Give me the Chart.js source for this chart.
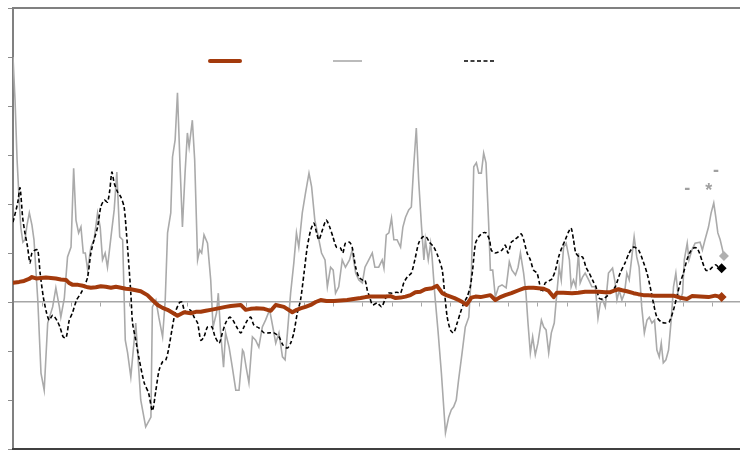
<!DOCTYPE html>
<html>
<head>
<meta charset="utf-8">
<script src="https://cdn.jsdelivr.net/npm/chart.js@4.4.0/dist/chart.umd.min.js"></script>
<style>
html, body { margin: 0; padding: 0; background: #fff; }
</style>
</head>
<body>
<canvas id="chart" width="740" height="451"></canvas>
<script>
// x in tick periods (one tick mark = 1), y in axis units (one tick = 1)

// thick brown series
var brownX = [
  0.00, 0.21, 0.38, 0.55, 0.65, 0.79, 0.96, 1.13, 1.30, 1.47,
  1.64, 1.82, 1.92, 2.05, 2.23, 2.40, 2.57, 2.67, 2.84, 3.01,
  3.18, 3.36, 3.53, 3.70, 3.87, 4.04, 4.21, 4.38, 4.61, 4.78,
  4.96, 5.13, 5.30, 5.47, 5.64, 5.87, 6.10, 6.27, 6.44, 6.61,
  6.78, 6.95, 7.12, 7.29, 7.47, 7.64, 7.81, 7.98, 8.15, 8.32,
  8.61, 8.84, 9.01, 9.29, 9.58, 9.73, 9.86, 10.03, 10.21, 10.38,
  10.55, 10.75, 11.00, 11.23, 11.46, 11.68, 11.92, 12.09, 12.26, 12.43,
  12.60, 12.77, 12.95, 13.12, 13.29, 13.46, 13.63, 13.80, 13.97, 14.14,
  14.37, 14.54, 14.72, 14.86, 15.00, 15.14, 15.28, 15.41, 15.55, 15.72,
  15.86, 16.03, 16.20, 16.37, 16.54, 16.71, 16.88, 17.09, 17.34, 17.51,
  17.68, 17.85, 18.02, 18.20, 18.36, 18.54, 18.65, 18.87, 19.17, 19.38,
  19.62, 19.83, 20.08, 20.31, 20.48, 20.65, 20.76, 20.89, 21.05, 21.28,
  21.44, 21.62, 21.78, 21.96, 22.30, 22.65, 22.93, 23.11, 23.28, 23.56,
  23.85, 24.08, 24.30
];
var brownY = [
  0.39, 0.41, 0.43, 0.47, 0.51, 0.48, 0.49, 0.50, 0.49, 0.48,
  0.46, 0.45, 0.39, 0.35, 0.35, 0.33, 0.30, 0.29, 0.30, 0.32,
  0.31, 0.29, 0.31, 0.29, 0.27, 0.26, 0.24, 0.22, 0.14, 0.04,
  -0.06, -0.12, -0.16, -0.22, -0.28, -0.21, -0.23, -0.20, -0.20, -0.18,
  -0.16, -0.14, -0.12, -0.10, -0.08, -0.07, -0.06, -0.16, -0.14, -0.13,
  -0.14, -0.18, -0.06, -0.10, -0.21, -0.16, -0.13, -0.10, -0.06, 0.00,
  0.04, 0.02, 0.02, 0.03, 0.04, 0.06, 0.08, 0.10, 0.11, 0.11,
  0.11, 0.11, 0.12, 0.08, 0.09, 0.11, 0.14, 0.20, 0.21, 0.26,
  0.28, 0.33, 0.18, 0.14, 0.11, 0.08, 0.04, 0.00, -0.06, 0.09,
  0.11, 0.10, 0.12, 0.14, 0.04, 0.10, 0.14, 0.18, 0.24, 0.28,
  0.29, 0.29, 0.28, 0.27, 0.23, 0.10, 0.19, 0.19, 0.18, 0.19,
  0.21, 0.21, 0.21, 0.20, 0.20, 0.24, 0.26, 0.24, 0.22, 0.18,
  0.16, 0.14, 0.14, 0.13, 0.13, 0.13, 0.08, 0.06, 0.12, 0.11,
  0.10, 0.13, 0.10
];

// thin grey series
var greyX = [
  0.00, 0.07, 0.14, 0.21, 0.27, 0.34, 0.41, 0.48, 0.56, 0.65,
  0.72, 0.85, 0.96, 1.07, 1.19, 1.36, 1.47, 1.59, 1.64, 1.76,
  1.87, 1.99, 2.08, 2.16, 2.25, 2.33, 2.41, 2.48, 2.56, 2.67,
  2.78, 2.90, 2.99, 3.07, 3.16, 3.24, 3.36, 3.47, 3.56, 3.66,
  3.76, 3.85, 3.93, 4.04, 4.14, 4.21, 4.38, 4.55, 4.73, 4.78,
  4.90, 5.00, 5.13, 5.22, 5.30, 5.41, 5.47, 5.56, 5.64, 5.73,
  5.81, 5.90, 5.98, 6.04, 6.15, 6.23, 6.33, 6.40, 6.47, 6.55,
  6.67, 6.78, 6.86, 6.98, 7.04, 7.12, 7.22, 7.29, 7.41, 7.52,
  7.64, 7.75, 7.87, 7.91, 8.00, 8.09, 8.21, 8.32, 8.43, 8.55,
  8.66, 8.80, 8.91, 9.01, 9.12, 9.24, 9.33, 9.41, 9.52, 9.63,
  9.72, 9.80, 9.92, 10.03, 10.15, 10.24, 10.35, 10.47, 10.58, 10.70,
  10.78, 10.89, 10.98, 11.06, 11.17, 11.29, 11.40, 11.54, 11.63, 11.75,
  11.86, 11.98, 12.07, 12.20, 12.32, 12.41, 12.54, 12.66, 12.72, 12.80,
  12.89, 12.98, 13.06, 13.17, 13.29, 13.37, 13.46, 13.57, 13.66, 13.74,
  13.83, 13.91, 14.01, 14.09, 14.14, 14.24, 14.32, 14.37, 14.46, 14.58,
  14.69, 14.83, 14.94, 15.03, 15.11, 15.20, 15.28, 15.40, 15.51, 15.63,
  15.72, 15.80, 15.89, 15.97, 16.06, 16.14, 16.22, 16.31, 16.37, 16.45,
  16.54, 16.65, 16.77, 16.91, 17.02, 17.11, 17.23, 17.32, 17.40, 17.51,
  17.59, 17.66, 17.74, 17.82, 17.91, 18.00, 18.12, 18.20, 18.28, 18.37,
  18.46, 18.56, 18.65, 18.73, 18.80, 18.88, 18.97, 19.08, 19.14, 19.22,
  19.30, 19.39, 19.45, 19.53, 19.62, 19.74, 19.85, 19.97, 20.06, 20.14,
  20.22, 20.31, 20.42, 20.56, 20.65, 20.71, 20.79, 20.88, 20.97, 21.05,
  21.13, 21.22, 21.30, 21.39, 21.47, 21.56, 21.65, 21.74, 21.82, 21.91,
  22.00, 22.08, 22.16, 22.23, 22.30, 22.39, 22.48, 22.57, 22.65, 22.73,
  22.80, 22.88, 22.96, 23.02, 23.12, 23.18, 23.28, 23.39, 23.56, 23.64,
  23.73, 23.85, 23.94, 24.03, 24.10, 24.17, 24.25, 24.38
];
var greyY = [
  5.00, 4.12, 2.90, 2.08, 1.51, 1.22, 1.27, 1.57, 1.82, 1.57,
  1.27, 0.04, -1.45, -1.80, -0.43, -0.10, 0.29, -0.10, -0.31, 0.08,
  0.92, 1.12, 2.73, 1.67, 1.41, 1.53, 1.00, 1.00, 0.65, 1.12,
  1.27, 1.82, 1.53, 0.86, 1.00, 0.71, 1.33, 1.88, 2.65, 1.33,
  1.27, -0.78, -1.04, -1.53, -0.88, -0.43, -2.00, -2.55, -2.35, -0.10,
  0.04, -0.31, -0.71, 0.04, 1.41, 1.82, 2.96, 3.31, 4.27, 2.76,
  1.53, 2.63, 3.45, 3.16, 3.71, 2.90, 0.86, 1.06, 1.00, 1.37,
  1.20, 0.45, -0.51, -0.22, 0.18, -0.63, -1.33, -0.63, -0.92, -1.33,
  -1.80, -1.80, -0.98, -1.02, -1.35, -1.65, -0.71, -0.78, -0.92, -0.51,
  -0.37, -0.16, -0.51, -0.84, -0.63, -1.12, -1.18, -0.63, 0.18, 0.80,
  1.41, 1.12, 1.82, 2.22, 2.63, 2.35, 1.67, 1.33, 1.00, 0.86,
  0.31, 0.71, 0.65, 0.18, 0.31, 0.86, 0.71, 0.86, 1.06, 0.59,
  0.45, 0.39, 0.71, 0.86, 1.00, 0.71, 0.71, 0.86, 0.69, 1.37,
  1.41, 1.71, 1.27, 1.27, 1.12, 1.53, 1.73, 1.88, 1.94, 2.76,
  3.55, 2.49, 1.53, 0.86, 1.27, 0.86, 1.20, 0.92, 0.18, -0.63,
  -1.45, -2.67, -2.35, -2.20, -2.14, -2.00, -1.59, -1.04, -0.51, -0.31,
  0.59, 2.76, 2.84, 2.63, 2.63, 3.04, 2.84, 1.61, 0.65, 0.65,
  0.10, 0.31, 0.35, 0.29, 0.82, 0.65, 0.55, 0.71, 1.00, 0.59,
  0.18, -0.43, -1.04, -0.71, -1.08, -0.84, -0.37, -0.51, -0.57, -1.04,
  -0.63, -0.43, 0.18, 0.71, 0.45, 1.12, 1.20, 0.86, 0.31, 0.45,
  0.31, 1.00, 0.39, 0.51, 0.59, 0.45, 0.31, 0.31, -0.33, -0.02,
  0.04, -0.10, 0.59, 0.69, 0.39, 0.04, 0.24, 0.04, 0.18, 0.59,
  0.45, 0.92, 1.33, 0.92, 0.71, -0.10, -0.63, -0.37, -0.31, -0.43,
  -0.37, -0.98, -1.12, -0.84, -1.24, -1.18, -0.98, -0.37, 0.31, 0.59,
  0.18, 0.04, 0.18, 0.86, 1.20, 0.86, 1.06, 1.20, 1.22, 1.06,
  1.27, 1.53, 1.82, 2.02, 1.73, 1.41, 1.27, 0.94
];

// dashed black series
var blackX = [
  0.00, 0.16, 0.24, 0.33, 0.41, 0.50, 0.58, 0.65, 0.76, 0.85,
  0.93, 1.04, 1.15, 1.24, 1.36, 1.50, 1.61, 1.72, 1.82, 1.93,
  2.04, 2.18, 2.33, 2.44, 2.56, 2.67, 2.78, 2.90, 3.01, 3.13,
  3.24, 3.32, 3.39, 3.47, 3.59, 3.70, 3.81, 3.89, 3.96, 4.04,
  4.10, 4.21, 4.33, 4.50, 4.65, 4.78, 4.90, 5.01, 5.13, 5.24,
  5.33, 5.45, 5.56, 5.70, 5.79, 5.87, 5.96, 6.04, 6.13, 6.21,
  6.33, 6.44, 6.55, 6.67, 6.82, 6.93, 7.07, 7.18, 7.29, 7.43,
  7.54, 7.67, 7.81, 7.92, 8.04, 8.15, 8.26, 8.43, 8.61, 8.78,
  8.95, 9.12, 9.26, 9.41, 9.52, 9.63, 9.75, 9.86, 9.98, 10.09,
  10.21, 10.32, 10.41, 10.49, 10.61, 10.74, 10.86, 10.97, 11.09, 11.23,
  11.31, 11.40, 11.54, 11.63, 11.75, 11.86, 11.98, 12.07, 12.15, 12.23,
  12.33, 12.49, 12.64, 12.75, 12.87, 13.00, 13.17, 13.29, 13.40, 13.52,
  13.66, 13.78, 13.91, 14.05, 14.17, 14.28, 14.43, 14.58, 14.72, 14.80,
  14.89, 15.00, 15.11, 15.23, 15.34, 15.46, 15.57, 15.68, 15.76, 15.86,
  15.97, 16.11, 16.22, 16.34, 16.40, 16.52, 16.65, 16.77, 16.88, 16.98,
  17.09, 17.20, 17.32, 17.43, 17.51, 17.63, 17.74, 17.85, 17.97, 18.05,
  18.14, 18.25, 18.37, 18.48, 18.60, 18.71, 18.83, 18.94, 19.05, 19.14,
  19.22, 19.30, 19.42, 19.53, 19.65, 19.76, 19.87, 19.99, 20.10, 20.22,
  20.33, 20.48, 20.65, 20.82, 20.99, 21.13, 21.28, 21.45, 21.59, 21.74,
  21.85, 21.96, 22.08, 22.23, 22.36, 22.50, 22.65, 22.76, 22.88, 22.99,
  23.11, 23.22, 23.33, 23.45, 23.54, 23.64, 23.76, 23.87, 23.98, 24.10,
  24.19, 24.30
];
var blackY = [
  1.63, 2.02, 2.33, 1.73, 1.41, 1.12, 0.80, 1.00, 1.06, 1.06,
  0.59, 0.10, -0.22, -0.37, -0.27, -0.37, -0.51, -0.71, -0.73, -0.37,
  -0.22, 0.04, 0.18, 0.31, 0.51, 1.00, 1.27, 1.53, 1.94, 2.08,
  2.04, 2.29, 2.65, 2.43, 2.24, 2.14, 1.94, 1.41, 0.86, 0.18,
  -0.43, -0.78, -1.18, -1.65, -1.86, -2.22, -1.80, -1.39, -1.22, -1.18,
  -0.98, -0.57, -0.22, -0.02, 0.00, -0.16, -0.22, -0.16, -0.20, -0.31,
  -0.43, -0.78, -0.71, -0.51, -0.51, -0.71, -0.84, -0.63, -0.43, -0.31,
  -0.37, -0.51, -0.63, -0.51, -0.37, -0.31, -0.47, -0.53, -0.63, -0.63,
  -0.63, -0.71, -0.88, -0.94, -0.84, -0.63, -0.22, 0.04, 0.59, 1.12,
  1.47, 1.61, 1.41, 1.27, 1.47, 1.67, 1.53, 1.33, 1.12, 1.10,
  1.00, 1.20, 1.22, 1.12, 0.71, 0.51, 0.45, 0.45, 0.24, 0.10,
  -0.06, -0.02, -0.10, 0.04, 0.18, 0.18, 0.20, 0.18, 0.39, 0.51,
  0.59, 0.86, 1.20, 1.33, 1.33, 1.22, 1.12, 0.92, 0.65, 0.18,
  -0.31, -0.57, -0.63, -0.43, -0.22, -0.02, 0.10, 0.31, 0.65, 1.20,
  1.33, 1.41, 1.41, 1.27, 1.06, 1.00, 1.02, 1.06, 1.16, 1.00,
  1.22, 1.27, 1.33, 1.39, 1.27, 1.00, 0.86, 0.65, 0.59, 0.39,
  0.20, 0.39, 0.43, 0.47, 0.65, 0.92, 1.12, 1.27, 1.43, 1.51,
  1.27, 1.00, 0.92, 0.92, 0.71, 0.59, 0.45, 0.31, 0.08, 0.06,
  0.10, 0.18, 0.31, 0.59, 0.80, 1.00, 1.12, 1.06, 0.86, 0.59,
  0.31, -0.02, -0.31, -0.41, -0.43, -0.41, -0.16, 0.10, 0.39, 0.59,
  0.86, 1.02, 1.10, 1.10, 1.00, 0.82, 0.65, 0.65, 0.71, 0.76,
  0.71, 0.69
];

// small grey marks near the end of the series
var markX = [23.12, 23.86, 24.11];
var markY = [2.31, 2.35, 2.69];
var markText = ['-', '*', '-'];

// axis range
var yMin = -3, yMax = 6, yStep = 1;
var xMin = 0, xMax = 24.93, xStep = 1;

var BROWN = '#a33a0c';
var GREY = '#aaaaaa';
var BLACK = '#000000';

function toPoints(xs, ys) {
    return xs.map(function (x, i) { return { x: x, y: ys[i] }; });
}

function lastOnly(r) {
    return function (ctx) {
        return ctx.dataIndex === ctx.dataset.data.length - 1 ? r : 0;
    };
}

// top and bottom lines of the plot box
var framePlugin = {
    id: 'frame',
    afterDraw: function (chart) {
        var ctx = chart.ctx, a = chart.chartArea;
        ctx.save();
        ctx.lineWidth = 2;
        ctx.strokeStyle = '#808080';
        ctx.beginPath();
        ctx.moveTo(a.left - 1, a.top);
        ctx.lineTo(a.right, a.top);
        ctx.stroke();
        ctx.strokeStyle = '#404040';
        ctx.beginPath();
        ctx.moveTo(a.left - 1, a.bottom);
        ctx.lineTo(a.right, a.bottom);
        ctx.stroke();
        ctx.restore();
    }
};

// legend samples only (no label text in the picture)
var legendSlots = [
    { ds: 0, x0: 210, x1: 240 },
    { ds: 2, x0: 333, x1: 362 },
    { ds: 1, x0: 464, x1: 494 }
];
var legendPlugin = {
    id: 'lineLegend',
    afterDraw: function (chart) {
        var ctx = chart.ctx;
        var y = chart.chartArea.top + 53;
        ctx.save();
        legendSlots.forEach(function (s) {
            var ds = chart.data.datasets[s.ds];
            ctx.strokeStyle = ds.borderColor;
            ctx.lineWidth = ds.borderWidth;
            ctx.lineCap = ds.borderCapStyle || 'butt';
            ctx.setLineDash(ds.borderDash || []);
            ctx.beginPath();
            ctx.moveTo(s.x0, y);
            ctx.lineTo(s.x1, y);
            ctx.stroke();
        });
        ctx.restore();
    }
};

// marks placed through the scales
var marksPlugin = {
    id: 'marks',
    afterDatasetsDraw: function (chart) {
        var ctx = chart.ctx, xs = chart.scales.x, ys = chart.scales.y;
        ctx.save();
        ctx.fillStyle = '#a0a0a0';
        ctx.font = 'bold 18px "Liberation Sans", Arial, sans-serif';
        ctx.textAlign = 'center';
        ctx.textBaseline = 'alphabetic';
        markText.forEach(function (t, i) {
            var m = ctx.measureText(t);
            var px = xs.getPixelForValue(markX[i]);
            var py = ys.getPixelForValue(markY[i]);
            var off = (m.actualBoundingBoxAscent - m.actualBoundingBoxDescent) / 2;
            ctx.fillText(t, px, py + off);
        });
        ctx.restore();
    }
};

new Chart(document.getElementById('chart'), {
    type: 'line',
    data: {
        datasets: [
            {
                label: 'brown',
                data: toPoints(brownX, brownY),
                borderColor: BROWN,
                backgroundColor: BROWN,
                borderWidth: 4,
                borderCapStyle: 'round',
                borderJoinStyle: 'round',
                tension: 0,
                pointStyle: 'rectRot',
                pointRadius: lastOnly(5),
                pointBorderWidth: 0,
                pointBackgroundColor: BROWN
            },
            {
                label: 'black',
                data: toPoints(blackX, blackY),
                borderColor: BLACK,
                backgroundColor: BLACK,
                borderWidth: 1.6,
                borderDash: [4, 2.5],
                tension: 0.25,
                pointStyle: 'rectRot',
                pointRadius: lastOnly(5),
                pointBorderWidth: 0,
                pointBackgroundColor: BLACK
            },
            {
                label: 'grey',
                data: toPoints(greyX, greyY),
                borderColor: GREY,
                backgroundColor: GREY,
                borderWidth: 1.6,
                tension: 0,
                pointStyle: 'rectRot',
                pointRadius: lastOnly(5),
                pointBorderWidth: 0,
                pointBackgroundColor: '#b0b0b0'
            }
        ]
    },
    options: {
        responsive: false,
        animation: false,
        // no automatic room for the end markers: plot box fills the canvas
        layout: { autoPadding: false, padding: { top: 8, right: 0, bottom: 2, left: 0 } },
        plugins: {
            legend: { display: false },
            tooltip: { enabled: false }
        },
        scales: {
            x: {
                type: 'linear',
                min: xMin,
                max: xMax,
                position: { y: 0 },
                ticks: { display: false, stepSize: xStep, includeBounds: false },
                grid: { drawOnChartArea: false, drawTicks: true, tickLength: 4, color: '#a6a6a6', lineWidth: 1 },
                border: { color: '#a6a6a6', width: 1.5 },
                // axis sits on the zero line, so it takes no room below the plot
                afterFit: function (scale) { scale.height = 0; }
            },
            y: {
                min: yMin,
                max: yMax,
                ticks: { display: false, stepSize: yStep },
                grid: { drawOnChartArea: false, drawTicks: true, tickLength: 5, color: '#8c8c8c', lineWidth: 1 },
                border: { color: '#808080', width: 2 },
                afterFit: function (scale) { scale.width = 13; }
            }
        }
    },
    plugins: [framePlugin, legendPlugin, marksPlugin]
});
</script>
</body>
</html>
